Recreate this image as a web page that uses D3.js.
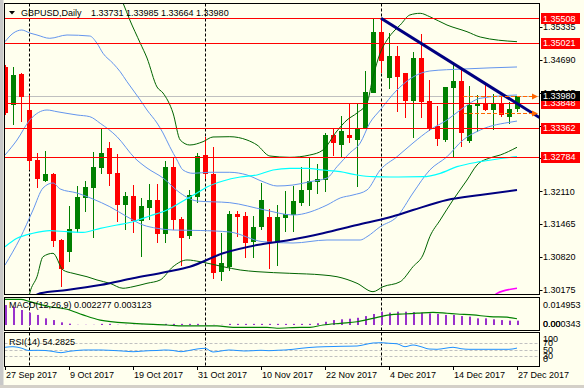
<!DOCTYPE html>
<html>
<head>
<meta charset="utf-8">
<script src="https://d3js.org/d3.v7.min.js"></script>
<style>
  body { margin: 0; background: #ffffee; }
  svg { display: block; font-family: "Liberation Sans", Arial, sans-serif; font-size: 9px; }
</style>
</head>
<body>
<svg width="584" height="388"></svg>
<script>
// ---- candles (bar index 0 = 27 Sep 2017, 64 = 27 Dec 2017) ----
const opens = [1.34552,1.33805,1.34414,1.33707,1.32725,1.32313,1.32450,1.31154,1.30905,1.31376,
  1.31985,1.32181,1.32574,1.32967,1.32476,1.31841,1.32024,1.31533,1.31788,1.31940,
  1.31272,1.32594,1.31566,1.31233,1.32004,1.32823,1.32450,1.30512,1.30630,1.31665,
  1.31625,1.31101,1.31415,1.31600,1.31101,1.31592,1.31645,1.31887,1.32136,1.32299,
  1.32332,1.33216,1.33020,1.33216,1.33132,1.33360,1.34055,1.35245,1.34330,1.34768,
  1.34428,1.33890,1.34734,1.33890,1.33393,1.33118,1.34153,1.34283,1.33104,1.33786,
  1.33839,1.33707,1.33839,1.33576,1.33731];
const highs = [1.34591,1.34558,1.34428,1.34002,1.32857,1.32896,1.32476,1.31168,1.31822,1.32215,
  1.32313,1.32888,1.33360,1.33085,1.32843,1.32103,1.32234,1.31985,1.32254,1.32248,
  1.32706,1.32790,1.31600,1.32136,1.32857,1.33183,1.32986,1.31286,1.31724,1.31730,
  1.31710,1.31625,1.32279,1.31757,1.31841,1.32116,1.32220,1.32582,1.32770,1.32647,
  1.33261,1.33348,1.33589,1.33825,1.33851,1.34479,1.35494,1.35508,1.35213,1.34964,
  1.34440,1.34852,1.35200,1.34296,1.33786,1.34153,1.34656,1.34493,1.34178,1.34002,
  1.34198,1.34015,1.33982,1.33870,1.33985];
const lows = [1.33609,1.33413,1.33477,1.32529,1.32169,1.32299,1.31022,1.30225,1.30716,1.31286,
  1.31710,1.31187,1.32444,1.32220,1.31513,1.31350,1.31286,1.30826,1.31547,1.31089,
  1.31089,1.31350,1.30643,1.31180,1.31887,1.32346,1.30382,1.30355,1.30545,1.31219,
  1.30806,1.30806,1.31350,1.30579,1.30643,1.31317,1.31317,1.31828,1.31828,1.32057,
  1.32103,1.32810,1.32770,1.33065,1.32189,1.33360,1.34055,1.34428,1.34120,1.33674,
  1.33556,1.33163,1.33544,1.33301,1.33000,1.33085,1.32790,1.32986,1.33065,1.33281,
  1.33693,1.33314,1.33576,1.33432,1.33664];
const closes = [1.33648,1.34395,1.33968,1.32711,1.32346,1.32450,1.31140,1.30590,1.31364,1.32004,
  1.32195,1.32594,1.32869,1.32450,1.31841,1.32018,1.31533,1.31822,1.31940,1.31272,
  1.32594,1.31547,1.31199,1.32038,1.32810,1.32450,1.30512,1.30696,1.31665,1.31612,
  1.31101,1.31403,1.31940,1.31089,1.31612,1.31665,1.31920,1.32136,1.32313,1.32352,
  1.33216,1.33053,1.33301,1.33151,1.33360,1.34067,1.35245,1.34675,1.34768,1.34361,
  1.33870,1.34734,1.33870,1.33334,1.33144,1.34153,1.34283,1.33261,1.33805,1.33839,
  1.33707,1.33839,1.33609,1.33727,1.33980];

// ---- indicator lines, [bar, value] ----
const bbUpper = [[0,1.35049],[1,1.35213],[2.1,1.35278],[3.1,1.35219],[4,1.35180],[5.6,1.35115],[7.75,1.35180],
  [10.6,1.35160],[11.5,1.35017],[12.25,1.34821],[13.5,1.34624],[14.4,1.34459],[15.25,1.34263],[16,1.34100],
  [16.9,1.33904],[17.75,1.33707],[19,1.33452],[19.75,1.33256],[20.6,1.32986],[21.5,1.32725],[22.25,1.32529],
  [23.5,1.32464],[25.6,1.32484],[28.1,1.32484],[30.25,1.32431],[32.25,1.32299],[34,1.32215],[36,1.32234],
  [38.1,1.32299],[40.25,1.32372],[41.5,1.32594],[43.1,1.32863],[44.4,1.33059],[45.6,1.33452],[46.9,1.33707],
  [49,1.34100],[51,1.34355],[53.1,1.34473],[57.25,1.34512],[64,1.34552]];
const bbMiddle = [[0,1.32823],[1.5,1.33118],[3.1,1.33511],[5.25,1.33707],[6.5,1.33674],[9,1.33609],[10.6,1.33576],
  [11.9,1.33446],[14,1.33183],[16.25,1.32759],[17.75,1.32568],[19.75,1.32372],[21.9,1.32077],[24,1.31920],
  [28.1,1.31887],[32.5,1.31743],[36,1.31645],[40.25,1.31841],[41.9,1.31979],[43.5,1.32038],[45.25,1.32136],
  [46.9,1.32529],[49,1.32790],[51,1.33059],[53.1,1.33314],[55.25,1.33511],[57.25,1.33746],[59.4,1.33937],[64,1.34002]];
const bbLower = [[0,1.30663],[1.9,1.31193],[3.5,1.31743],[4.75,1.32175],[6,1.32274],[6.9,1.32156],[9,1.32077],
  [11,1.31959],[13.1,1.31808],[15.25,1.31612],[17.25,1.31449],[19,1.31384],[21,1.31350],[24.4,1.31341],
  [28.1,1.31311],[32.25,1.31121],[36,1.31095],[40.25,1.31154],[44.4,1.31154],[45.25,1.31219],[46.9,1.31415],
  [49,1.31612],[51,1.32077],[53.1,1.32529],[55.25,1.32790],[57.25,1.33118],[59.4,1.33314],[63.5,1.33477],[64,1.33490]];
const bb2Upper = [[14.2,1.3600],[14.75,1.35809],[15.6,1.35475],[16.9,1.35023],[17.75,1.34728],[19,1.34159],
  [19.75,1.34041],[21,1.33648],[21.9,1.33118],[23.1,1.33020],[24.75,1.33085],[26,1.33177],[28.1,1.33183],
  [30.25,1.33118],[31.5,1.33020],[33.1,1.32804],[35.6,1.32778],[38.1,1.32823],[39.75,1.32922],[41.5,1.33295],
  [42.75,1.33511],[44,1.33648],[45.25,1.33845],[46,1.34355],[46.9,1.34827],[47.75,1.35082],[48.75,1.35278],
  [49.4,1.35376],[50.6,1.35573],[51.9,1.35606],[53.1,1.35539],[55.25,1.35376],[57.75,1.35245],[59.4,1.35141],[64,1.35049]];
const bb2Lower = [[2.9,1.29976],[3.1,1.30113],[4,1.30433],[4.75,1.30826],[6,1.30893],[7.25,1.30565],[8.5,1.30500],
  [10.25,1.30433],[11.5,1.30369],[13.1,1.30304],[14.75,1.30206],[16,1.30237],[17.75,1.30304],[19.4,1.30369],
  [21,1.30630],[22.75,1.30762],[24.4,1.30728],[27.25,1.30630],[29.4,1.30565],[31.5,1.30532],[35.6,1.30500],
  [39.75,1.30467],[41.5,1.30433],[44,1.30304],[46,1.30139],[47.25,1.30237],[49.4,1.30335],[51,1.30630],
  [52.25,1.30860],[53.1,1.31219],[54.4,1.31547],[56,1.31940],[57.75,1.32332],[59,1.32627],[60.6,1.32765],
  [61.9,1.32823],[64,1.32975]];
const maCyan = [[0,1.31022],[1.5,1.31187],[3.5,1.31286],[5.6,1.31337],[7.75,1.31317],[9.75,1.31305],[11.9,1.31384],
  [14,1.31449],[16,1.31513],[18.1,1.31626],[20.25,1.31743],[22.25,1.31920],[24,1.32077],[25.25,1.32195],
  [27.25,1.32313],[29.4,1.32391],[31.5,1.32431],[33.5,1.32529],[35.6,1.32562],[37.75,1.32562],[39.75,1.32529],
  [41.9,1.32496],[44,1.32431],[46,1.32397],[48.1,1.32391],[52.25,1.32397],[54.4,1.32464],[56.5,1.32594],
  [59.4,1.32692],[64,1.32790]];
const maNavy = [[3.5,1.30040],[4.4,1.30107],[7.75,1.30172],[11.9,1.30270],[16,1.30402],[20.25,1.30532],[23.1,1.30630],
  [27.25,1.30893],[31.5,1.31056],[35.6,1.31154],[39.75,1.31286],[44,1.31449],[48.1,1.31600],[51,1.31743],
  [55.25,1.31940],[59.4,1.32038],[64,1.32136]];
const maMagenta = [[61,1.30030],[61.5,1.30107],[64,1.30206]];

// ---- objects ----
const hLevels = [1.35508, 1.35021, 1.33848, 1.33362, 1.32784];
const bidPrice = 1.33980;
const trendPts = [[47, 1.35508], [64, 1.33835]];
const dayLevels = [1.33985, 1.33650];
const dayLevelStart = 57.25;
const separators = [3, 25, 47];

// ---- MACD / RSI ----
const macdHist = [0.0105,0.0096,0.0079,0.0065,0.0053,0.0035,0.0026,0.0014,0.0007,0.0001,
  0.0001,0.0001,0.0006,0.0006,0.0001,0.0001,0.0001,0.0001,0.0001,0.0001,
  0.0006,0.0006,0.0006,0.0006,0.0006,0.0001,0.0001,0.0001,0.0006,0.0006,
  0.0006,0.0006,0.0006,0.0006,0.0006,0.0006,0.0006,0.0006,0.0006,0.0009,
  0.0017,0.0026,0.0030,0.0033,0.0038,0.0047,0.0058,0.0070,0.0065,0.0070,
  0.0070,0.0068,0.0065,0.0061,0.0058,0.0053,0.0053,0.0047,0.0044,0.0035,
  0.0035,0.0030,0.0026,0.0023,0.002277];
const macdSignal = [[0,0.0135],[2,0.0135],[3.1,0.0123],[5.6,0.0096],[7.75,0.0083],[9.75,0.0053],[11.9,0.0026],
  [16,0.0009],[20.25,0],[22.25,-0.0005],[26.5,-0.0005],[28.5,-0.0012],[32.75,-0.0012],[34,-0.0017],
  [36.9,-0.0012],[38.1,-0.0012],[39.75,0],[41.9,0.0009],[44,0.0017],[46,0.0035],[48.1,0.0053],[49.75,0.0058],
  [51.5,0.0062],[53.5,0.0067],[55.25,0.0062],[56.5,0.0058],[58.5,0.0053],[60.6,0.0044],[62.75,0.0041],[64,0.0033]];
const rsi = [56.7,58.5,54.5,47,47.6,47,44,40.3,44.5,47,
  48.5,48.5,48.5,47.6,46.4,44.8,43.3,44.8,46.4,47,
  48.5,47,43.3,47,51.5,53.6,42.4,45.5,48.5,47,
  45.5,46.4,47.6,46.4,47.6,48.5,50.6,53.6,56,57.6,
  58.5,59,59.7,60,60.6,65,69.7,70.6,68.8,67.3,
  58.5,63.6,58.5,51.5,50.6,53.6,56.7,52.4,50.6,50.6,
  50.6,50.6,50.6,50.6,54.28];
const rsiLevels = [70, 50, 30];
const rsiLabels = [100, 70, 50, 30, 0];

// ---- axes ----
const priceTicks = [1.35335, 1.34690, 1.34045, 1.33400, 1.32755, 1.32110, 1.31465, 1.30820, 1.30175];
const dateBars = [0, 8, 16, 24, 32, 40, 48, 56, 64];
const dateLabels = ["27 Sep 2017","9 Oct 2017","19 Oct 2017","31 Oct 2017","10 Nov 2017",
  "22 Nov 2017","4 Dec 2017","14 Dec 2017","27 Dec 2017"];

const RED = "#ff0000", GREEN = "#008000";
const svg = d3.select("svg");
const L = 4.5, R = 539.5;

const x = d3.scaleLinear().domain([0, 64]).range([5, 517]);
const y = d3.scaleLinear().domain([1.30175, 1.35508]).range([289.86, 18.3]);
const yM = d3.scaleLinear().domain([0, 0.014953]).range([325, 296.6]);
const yR = d3.scaleLinear().domain([0, 100]).range([366, 333]);

// background + frame
svg.append("rect").attr("width", 584).attr("height", 388).attr("fill", "#ffffee");
svg.append("rect").attr("x", 0).attr("y", 0).attr("width", 3.5).attr("height", 388).attr("fill", "#c8c8c8");
svg.append("rect").attr("x", 0).attr("y", 385).attr("width", 584).attr("height", 3).attr("fill", "#d4d0c8");

const defs = svg.append("defs");
[["cMain", 3.5, 291], ["cMacd", 297.5, 33], ["cRsi", 332.5, 34]].forEach(c => {
  defs.append("clipPath").attr("id", c[0]).append("rect")
    .attr("x", L).attr("y", c[1]).attr("width", R - L).attr("height", c[2]);
});

// separators across all panels
const sep = svg.append("g");
separators.forEach(b => {
  [[3.5, 294.5], [297.5, 330.5], [332.5, 366.5]].forEach(p => {
    sep.append("line").attr("x1", x(b) + 0.5).attr("x2", x(b) + 0.5).attr("y1", p[0]).attr("y2", p[1])
      .attr("stroke", "#000").attr("stroke-dasharray", "3,2");
  });
});

// ---- main panel ----
const main = svg.append("g").attr("clip-path", "url(#cMain)");
main.append("line").attr("x1", L).attr("x2", R)
  .attr("y1", Math.round(y(bidPrice)) + 0.5).attr("y2", Math.round(y(bidPrice)) + 0.5)
  .attr("stroke", "#c0c0c0");

const idx = d3.range(opens.length);
const col = i => closes[i] >= opens[i] ? GREEN : RED;
main.selectAll("line.wick").data(idx).join("line").attr("class", "wick")
  .attr("x1", i => x(i) + 0.5).attr("x2", i => x(i) + 0.5)
  .attr("y1", i => Math.round(y(highs[i]))).attr("y2", i => Math.round(y(lows[i])))
  .attr("stroke", col);
main.selectAll("rect.body").data(idx).join("rect").attr("class", "body")
  .attr("x", i => x(i) - 2).attr("width", 5)
  .attr("y", i => Math.round(Math.min(y(opens[i]), y(closes[i]))))
  .attr("height", i => Math.max(1, Math.round(Math.abs(y(opens[i]) - y(closes[i])))))
  .attr("fill", col).attr("shape-rendering", "crispEdges");

const line = d3.line().x(d => x(d[0])).y(d => y(d[1])).curve(d3.curveMonotoneX);
[[bb2Upper, "#006400", 1], [bb2Lower, "#006400", 1],
 [bbUpper, "#6495ed", 1], [bbMiddle, "#6495ed", 1], [bbLower, "#6495ed", 1],
 [maCyan, "#00ffff", 1.2], [maNavy, "#000080", 2], [maMagenta, "#ff00ff", 1.5]].forEach(s => {
  main.append("path").attr("d", line(s[0])).attr("fill", "none")
    .attr("stroke", s[1]).attr("stroke-width", s[2]);
});

hLevels.forEach(p => {
  const yy = Math.round(y(p)) + 0.5;
  main.append("line").attr("x1", L).attr("x2", R).attr("y1", yy).attr("y2", yy).attr("stroke", RED);
});

// trend line extended to the right edge
const tx1 = x(trendPts[0][0]), ty1 = y(trendPts[0][1]);
const tx2 = x(trendPts[1][0]), ty2 = y(trendPts[1][1]);
const slope = (ty2 - ty1) / (tx2 - tx1);
main.append("line").attr("x1", tx1).attr("y1", ty1).attr("x2", R).attr("y2", ty1 + slope * (R - tx1))
  .attr("stroke", "#000080").attr("stroke-width", 3);

dayLevels.forEach(p => {
  const yy = Math.round(y(p)) + 0.5;
  main.append("line").attr("x1", x(dayLevelStart)).attr("x2", 533).attr("y1", yy).attr("y2", yy)
    .attr("stroke", "#ff6600").attr("stroke-dasharray", "4,2");
  main.append("path").attr("d", `M532,${yy - 3}L538,${yy}L532,${yy + 3}Z`).attr("fill", "#ff6600");
});

// header
svg.append("path").attr("d", "M9,11L15,11L12,14.5Z").attr("fill", "#000");
svg.append("text").attr("x", 21).attr("y", 16).text("GBPUSD,Daily");
svg.append("text").attr("x", 91).attr("y", 16).text("1.33731 1.33985 1.33664 1.33980");

// ---- MACD panel ----
const macd = svg.append("g").attr("clip-path", "url(#cMacd)");
macd.selectAll("rect").data(idx).join("rect")
  .attr("x", i => x(i)).attr("width", 2)
  .attr("y", i => Math.min(yM(0), yM(macdHist[i])))
  .attr("height", i => Math.abs(yM(0) - yM(macdHist[i])))
  .attr("fill", "#9932cc");
macd.append("path").attr("d", d3.line().x(d => x(d[0])).y(d => yM(d[1])).curve(d3.curveMonotoneX)(macdSignal))
  .attr("fill", "none").attr("stroke", "#008000").attr("stroke-width", 1.2);
svg.append("text").attr("x", 9).attr("y", 308).text("MACD(12,26,9) 0.002277 0.003123");

// ---- RSI panel ----
const rsiG = svg.append("g").attr("clip-path", "url(#cRsi)");
rsiLevels.forEach(v => {
  const yy = Math.round(yR(v)) + 0.5;
  rsiG.append("line").attr("x1", L).attr("x2", R).attr("y1", yy).attr("y2", yy)
    .attr("stroke", "#c0c0c0").attr("stroke-dasharray", "3,2");
});
rsiG.append("path").attr("d", d3.line().x((d, i) => x(i)).y(d => yR(d)).curve(d3.curveMonotoneX)(rsi))
  .attr("fill", "none").attr("stroke", "#1e90ff");
svg.append("text").attr("x", 9).attr("y", 345).text("RSI(14) 54.2825");

// ---- panel borders ----
[[3.5, 294.5], [297.5, 330.5], [332.5, 366.5]].forEach(p => {
  svg.append("rect").attr("x", L).attr("y", p[0]).attr("width", R - L).attr("height", p[1] - p[0])
    .attr("fill", "none").attr("stroke", "#000");
});

// ---- price axis ----
const ax = svg.append("g");
priceTicks.forEach(t => {
  const yy = y(t);
  ax.append("line").attr("x1", R).attr("x2", R + 3).attr("y1", Math.round(yy) + 0.5).attr("y2", Math.round(yy) + 0.5).attr("stroke", "#000");
  ax.append("text").attr("x", 543).attr("y", yy + 3.3).text(t.toFixed(5));
});
hLevels.forEach(p => {
  const yy = y(p);
  ax.append("rect").attr("x", 541).attr("y", Math.round(yy) - 5).attr("width", 39).attr("height", 11).attr("fill", RED);
  ax.append("text").attr("x", 543).attr("y", yy + 3.3).attr("fill", "#fff").text(p.toFixed(5));
});
{
  const yy = y(bidPrice);
  ax.append("rect").attr("x", 541).attr("y", Math.round(yy) - 5).attr("width", 39).attr("height", 10).attr("fill", "#000");
  ax.append("text").attr("x", 543).attr("y", yy + 3.3).attr("fill", "#fff").text(bidPrice.toFixed(5));
}
// MACD axis
ax.append("text").attr("x", 543).attr("y", 307.5).text("0.014953");
ax.append("text").attr("x", 543).attr("y", 327).text("0.00");
ax.append("text").attr("x", 543).attr("y", 327).text("0.000343");
// RSI axis
rsiLabels.forEach(v => {
  const yy = Math.max(339, Math.min(358.5, yR(v)));
  ax.append("text").attr("x", 543).attr("y", yy + 3.3).text(v);
});

// ---- time axis ----
dateBars.forEach((b, i) => {
  svg.append("line").attr("x1", x(b) + 0.5).attr("x2", x(b) + 0.5).attr("y1", 366.5).attr("y2", 370).attr("stroke", "#000");
  svg.append("text").attr("x", x(b) + 1).attr("y", 378).text(dateLabels[i]);
});
</script>
</body>
</html>
